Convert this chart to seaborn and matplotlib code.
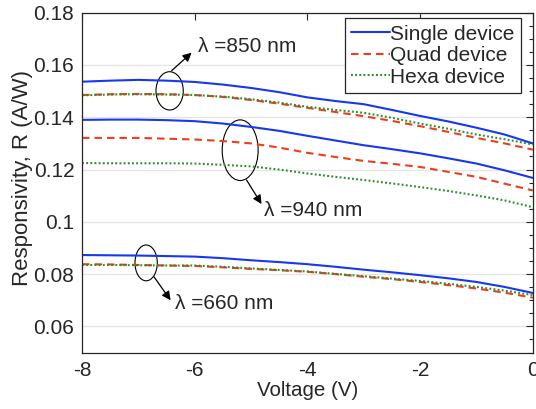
import numpy as np
import pandas as pd
import matplotlib
matplotlib.use("Agg")
import matplotlib.pyplot as plt
from matplotlib.patches import Ellipse
import seaborn as sns

voltage = [-8, -7.5, -7, -6.5, -6, -5.5, -5, -4.5, -4, -3.5, -3, -2.5, -2, -1.5, -1, -0.5, 0]

single_850 = [.1536, .1540, .1543, .1540, .1535, .1525, .1512, .1496, .1476, .1462, .1450, .1428, .1405, .1384, .1360, .1334, .1300]
quad_850 = [.1485, .1488, .1489, .1488, .1485, .1478, .1466, .1452, .1436, .1420, .1404, .1386, .1366, .1344, .1321, .1300, .1276]
hexa_850 = [.1484, .1487, .1488, .1487, .1485, .1479, .1469, .1456, .1440, .1428, .1417, .1398, .1376, .1356, .1334, .1316, .1296]

single_940 = [.1390, .1391, .1391, .1389, .1385, .1376, .1363, .1348, .1329, .1311, .1293, .1278, .1262, .1243, .1223, .1197, .1168]
quad_940 = [.1321, .1321, .1321, .1318, .1315, .1309, .1300, .1284, .1264, .1248, .1233, .1222, .1210, .1191, .1172, .1146, .1120]
hexa_940 = [.1225, .1224, .1224, .1224, .1223, .1218, .1212, .1200, .1185, .1172, .1160, .1147, .1133, .1118, .1101, .1082, .1056]

single_660 = [.0873, .0872, .0871, .0869, .0867, .0861, .0853, .0846, .0838, .0828, .0817, .0807, .0796, .0784, .0770, .0751, .0728]
quad_660 = [.0838, .0837, .0835, .0833, .0831, .0826, .0820, .0815, .0809, .0800, .0790, .0781, .0770, .0758, .0745, .0729, .0710]
hexa_660 = [.0835, .0835, .0834, .0833, .0833, .0828, .0822, .0816, .0810, .0801, .0792, .0783, .0774, .0763, .0751, .0737, .0720]

devices = ["Single device", "Quad device", "Hexa device"]
series = {
    ("Single device", "850"): single_850, ("Quad device", "850"): quad_850, ("Hexa device", "850"): hexa_850,
    ("Single device", "940"): single_940, ("Quad device", "940"): quad_940, ("Hexa device", "940"): hexa_940,
    ("Single device", "660"): single_660, ("Quad device", "660"): quad_660, ("Hexa device", "660"): hexa_660,
}

rows = []
for (dev, wl), vals in series.items():
    for v, r in zip(voltage, vals):
        rows.append({"Voltage": v, "R": r, "Device": dev, "Wavelength": wl})
df = pd.DataFrame(rows)

sns.set_style("white")
plt.rcParams["font.family"] = ["Liberation Sans", "DejaVu Sans"]

fig, ax = plt.subplots(figsize=(5.36, 4.09), dpi=100)
fig.subplots_adjust(left=0.153, right=0.994, top=0.969, bottom=0.138)

palette = {"Single device": "#1638ee", "Quad device": "#f03c1c", "Hexa device": "#2a8f2a"}
dashes = {"Single device": "", "Quad device": (3.6, 2.4), "Hexa device": (0.9, 1.1)}
sns.lineplot(data=df, x="Voltage", y="R", hue="Device", style="Device", units="Wavelength",
             estimator=None, palette=palette, dashes=dashes, hue_order=devices, style_order=devices,
             linewidth=1.5, ax=ax)

ax.set_xlim(-8, 0)
ax.set_ylim(0.05, 0.18)
ax.set_xticks([-8, -6, -4, -2, 0])
ax.set_xticklabels(["-8", "-6", "-4", "-2", "0"])
ax.set_yticks([0.06, 0.08, 0.1, 0.12, 0.14, 0.16, 0.18])
ax.set_yticklabels(["0.06", "0.08", "0.1", "0.12", "0.14", "0.16", "0.18"])
ax.set_yticks(np.arange(0.05, 0.1801, 0.005), minor=True)
ax.yaxis.grid(True, color="#e4e4e4", linewidth=0.9)
ax.set_axisbelow(True)
ax.tick_params(axis="both", which="both", direction="in", top=True, right=True,
               labelsize=15, colors="#262626", width=0.8)
ax.tick_params(axis="y", which="major", pad=5.5)
ax.tick_params(axis="x", which="major", pad=6)
ax.tick_params(which="major", length=5)
ax.tick_params(which="minor", length=3)
for s in ax.spines.values():
    s.set_color("#262626")
    s.set_linewidth(0.9)

ax.set_xlabel("Voltage (V)", fontsize=14.8, labelpad=1)
ax.set_ylabel("Responsivity, R (A/W)", fontsize=16, labelpad=0)
ax.yaxis.set_label_coords(-0.108, 0.515)

leg = ax.legend(loc="upper right", bbox_to_anchor=(0.973, 0.9835), borderaxespad=0,
                fontsize=15, frameon=True, fancybox=False, framealpha=1, edgecolor="#262626",
                handlelength=1.85, handletextpad=0.0, labelspacing=0.12, borderpad=0.3)
leg.get_frame().set_linewidth(0.9)

# ellipses with arrows and labels
ellipses = [(-6.445, 0.1501, 0.484, 0.01465), (-5.193, 0.1274, 0.638, 0.0232), (-6.862, 0.0843, 0.396, 0.0137)]
arrows = [((-6.41, 0.1578), (-6.055, 0.1647)), ((-5.08, 0.1160), (-4.814, 0.1068)), ((-6.723, 0.0790), (-6.428, 0.0700))]
labels = [(-5.94, 0.1670, "λ =850 nm"), (-4.773, 0.1043, "λ =940 nm"), (-6.351, 0.0687, "λ =660 nm")]
for (cx, cy, w, h) in ellipses:
    ax.add_patch(Ellipse((cx, cy), w, h, fill=False, edgecolor="black", linewidth=0.8))
for start, end in arrows:
    ax.annotate("", xy=end, xytext=start,
                arrowprops=dict(arrowstyle="-|>", color="black", lw=0.9, mutation_scale=13,
                                shrinkA=0, shrinkB=0))
for tx, ty, t in labels:
    ax.text(tx, ty, t, fontsize=15, va="center", ha="left")

plt.savefig("out.png", dpi=100)
plt.close()
